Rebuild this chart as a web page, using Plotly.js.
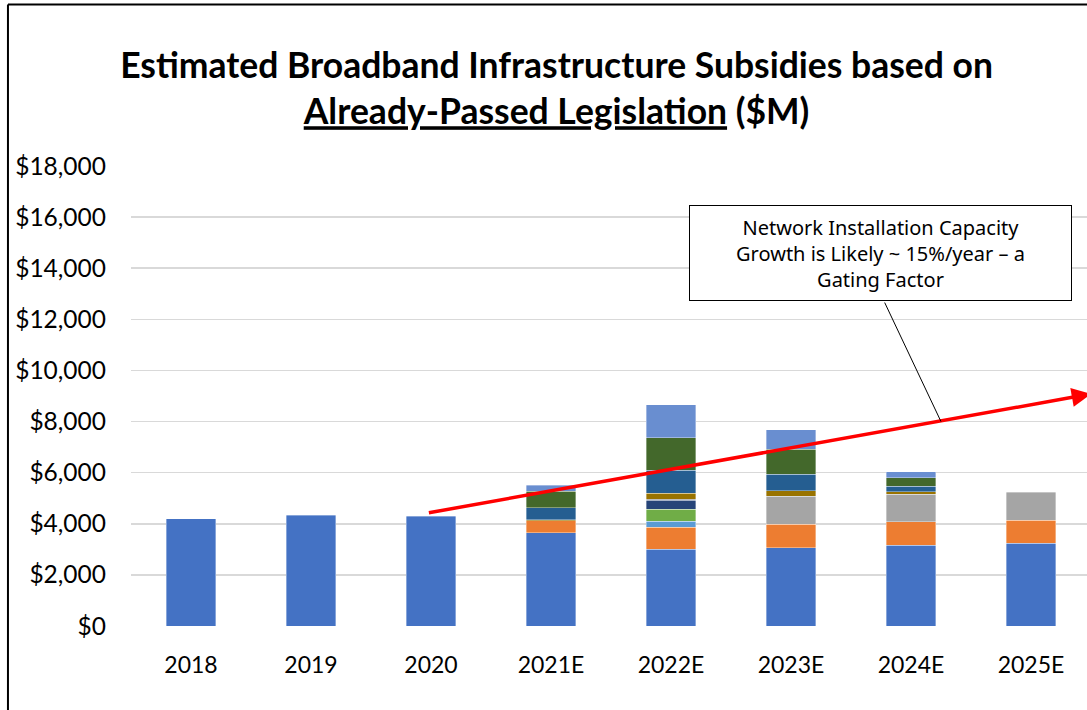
<!DOCTYPE html>
<html>
<head>
<meta charset="utf-8">
<script src="https://cdn.plot.ly/plotly-3.0.1.min.js"></script>
<style>html,body{margin:0;padding:0;background:#fff;}#chart{width:1087px;height:710px;}</style>
</head>
<body>
<div id="chart"></div>
<script>
const years = ["2018", "2019", "2020", "2021E", "2022E", "2023E", "2024E", "2025E"];

const series1 = [4190, 4340, 4300, 3650, 3010, 3065, 3155, 3245];
const series2 = [null, null, null, 470, 860, 925, 925, 885];
const series3 = [null, null, null, null, null, 1095, 1080, 1110];
const series5 = [null, null, null, null, 235, null, null, null];
const series6 = [null, null, null, null, 470, null, null, null];
const series7 = [null, null, null, null, 340, null, null, null];
const series9 = [null, null, null, null, 50, null, null, null];
const series10 = [null, null, null, 40, 235, 210, 90, null];
const series11 = [null, null, null, 470, 890, 650, 220, null];
const series12 = [null, null, null, 650, 1280, 965, 325, null];
const series13 = [null, null, null, 220, 1280, 760, 235, null];

const seriesNames = ["Series 1", "Series 2", "Series 3", "Series 5", "Series 6", "Series 7",
                     "Series 9", "Series 10", "Series 11", "Series 12", "Series 13"];
const seriesValues = [series1, series2, series3, series5, series6, series7,
                      series9, series10, series11, series12, series13];
const seriesColors = ["#4472C4", "#ED7D31", "#A5A5A5", "#5B9BD5", "#70AD47", "#264478",
                      "#636363", "#997300", "#255E91", "#43682B", "#698ED0"];

const yTickVals = [0, 2000, 4000, 6000, 8000, 10000, 12000, 14000, 16000, 18000];
const yTickText = ["$0", "$2,000", "$4,000", "$6,000", "$8,000", "$10,000", "$12,000", "$14,000", "$16,000", "$18,000"];

// Trend arrow (category index, value)
const trendStart = [1.97, 4420];
const trendEnd = [7.5, 9080];
// Callout pointer (category index, value)
const pointerTail = [5.775, 12715];
const pointerHead = [6.25, 8000];
const calloutPos = [5.746, 14610];
const calloutText = "Network Installation Capacity<br>Growth is Likely ~ 15%/year – a<br>Gating Factor";

const traces = seriesValues.map((vals, i) => ({
  type: "bar",
  name: seriesNames[i],
  x: years.map((_, k) => k),
  y: vals,
  marker: { color: seriesColors[i], line: { color: "rgba(255,255,255,0.45)", width: 0.8 } },
  hoverinfo: "name+y"
}));

const layout = {
  width: 1087,
  height: 710,
  margin: { l: 131, r: 0, t: 166, b: 84 },
  paper_bgcolor: "#ffffff",
  plot_bgcolor: "#ffffff",
  barmode: "stack",
  bargap: 0.59,
  showlegend: false,
  font: { family: "Lato, 'Noto Sans', sans-serif", color: "#000000" },
  title: {
    text: "<b>Estimated Broadband Infrastructure Subsidies based on<br><u>Already-Passed Legislation</u> ($M)</b>",
    font: { family: "Lato, 'Noto Sans', sans-serif", size: 35.5, color: "#000000" },
    x: 0.512, xref: "container", xanchor: "center",
    y: 0.89, yref: "container", yanchor: "top"
  },
  xaxis: {
    type: "linear",
    range: [-0.5, 7.467],
    tickvals: years.map((_, k) => k),
    ticktext: years,
    showgrid: false,
    zeroline: false,
    showline: false,
    ticks: "",
    ticklabelstandoff: 23,
    tickfont: { size: 23, color: "#000000", family: "Lato, 'Noto Sans', sans-serif" },
    fixedrange: true
  },
  yaxis: {
    range: [0, 18000],
    tickvals: yTickVals,
    ticktext: yTickText,
    showgrid: true,
    gridcolor: "#D9D9D9",
    gridwidth: 1.6,
    zeroline: false,
    showline: false,
    ticks: "",
    ticklabelstandoff: 24,
    tickfont: { size: 24.5, color: "#000000", family: "Lato, 'Noto Sans', sans-serif" },
    fixedrange: true
  },
  shapes: [
    { type: "line", xref: "paper", yref: "paper", x0: -0.1287, x1: -0.1287, y0: -0.25, y1: 1.351,
      line: { color: "#000000", width: 2 } },
    { type: "line", xref: "paper", yref: "paper", x0: -0.1287, x1: 1.05, y0: 1.351, y1: 1.351,
      line: { color: "#000000", width: 2 } }
  ],
  annotations: [
    {
      x: trendEnd[0], y: trendEnd[1], xref: "x", yref: "y",
      ax: trendStart[0], ay: trendStart[1], axref: "x", ayref: "y",
      showarrow: true, arrowhead: 2, arrowsize: 1.1, arrowwidth: 3.5, arrowcolor: "#FF0000",
      text: ""
    },
    {
      x: pointerHead[0], y: pointerHead[1], xref: "x", yref: "y",
      ax: pointerTail[0], ay: pointerTail[1], axref: "x", ayref: "y",
      showarrow: true, arrowhead: 0, arrowwidth: 1, arrowcolor: "#000000",
      text: ""
    },
    {
      x: calloutPos[0], y: calloutPos[1], xref: "x", yref: "y",
      showarrow: false,
      text: calloutText,
      font: { family: "'Noto Sans', 'Open Sans', sans-serif", size: 20, color: "#000000" },
      align: "center",
      width: 381, height: 94,
      bgcolor: "#ffffff",
      bordercolor: "#000000",
      borderwidth: 1,
      borderpad: 0
    }
  ]
};

Plotly.newPlot("chart", traces, layout, { displayModeBar: false, staticPlot: true });
</script>
</body>
</html>
